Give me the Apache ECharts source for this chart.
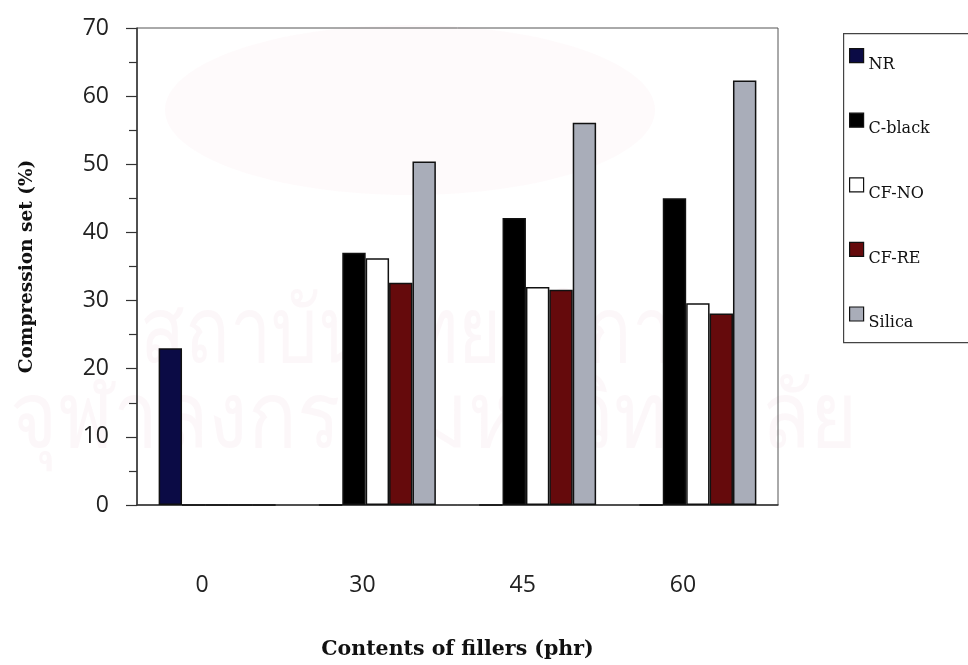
<!DOCTYPE html>
<html>
<head>
<meta charset="utf-8">
<script src="https://cdn.jsdelivr.net/npm/echarts@6/dist/echarts.min.js"></script>
<style>
  html, body { margin: 0; padding: 0; background: #fff; }
  #chart { width: 968px; height: 665px; }
</style>
</head>
<body>
<div id="chart"></div>
<script>
// Filler contents (phr) on the category axis
const categories = ['0', '30', '45', '60'];

// Compression set (%) per filler type
const nrValues     = [23, 0, 0, 0];
const cblackValues = [0, 37, 42.1, 45];
const cfnoValues   = [0, 36.2, 32, 29.6];
const cfreValues   = [0, 32.6, 31.6, 28.1];
const silicaValues = [0, 50.4, 56.1, 62.3];

const yTicks = { min: 0, max: 70, interval: 10 };

const seriesDefs = [
  { name: 'NR',      data: nrValues,     color: '#0b0b45' },
  { name: 'C-black', data: cblackValues, color: '#000000' },
  { name: 'CF-NO',   data: cfnoValues,   color: '#ffffff' },
  { name: 'CF-RE',   data: cfreValues,   color: '#650a0c' },
  { name: 'Silica',  data: silicaValues, color: '#a9adb9' }
];

const serif = '"DejaVu Serif", "Liberation Serif", serif';
const sans = '"Open Sans", "DejaVu Sans", sans-serif';

const chart = echarts.init(document.getElementById('chart'), null, { renderer: 'canvas' });

const option = {
  backgroundColor: '#ffffff',
  animation: false,
  graphic: [
    // faint institutional watermark behind the plot
    {
      type: 'ellipse', z: -11,
      shape: { cx: 410, cy: 110, rx: 245, ry: 85 },
      style: { fill: 'rgba(240,190,200,0.08)' }
    },
    {
      type: 'text', z: -10, x: 140, y: 290, scaleX: 0.8,
      style: { text: 'สถาบันวิทยบริการ', fill: 'rgba(220,150,180,0.08)', font: '92px "Noto Sans", "DejaVu Sans", sans-serif' }
    },
    {
      type: 'text', z: -10, x: 10, y: 375, scaleX: 0.88,
      style: { text: 'จุฬาลงกรณ์มหาวิทยาลัย', fill: 'rgba(220,150,180,0.08)', font: '92px "Noto Sans", "DejaVu Sans", sans-serif' }
    },
    // legend frame
    {
      type: 'rect', left: 843, top: 33, z: 5,
      shape: { width: 150, height: 309 },
      style: { fill: '#ffffff', stroke: '#444', lineWidth: 1.2 }
    }
  ],
  legend: {
    orient: 'vertical',
    left: 844,
    top: 43,
    itemWidth: 14,
    itemHeight: 14,
    itemGap: 40,
    icon: 'rect',
    z: 10,
    itemStyle: { borderColor: '#111', borderWidth: 1.2 },
    formatter: name => '{t|' + name + '}',
    textStyle: {
      fontFamily: serif,
      fontSize: 16,
      color: '#111',
      rich: {
        t: { fontFamily: serif, fontSize: 16, color: '#111', padding: [18, 0, 0, 0] }
      }
    },
    data: seriesDefs.map(s => s.name)
  },
  grid: {
    left: 137,
    right: 190,
    top: 28,
    bottom: 158,
    show: true,
    borderColor: '#555',
    borderWidth: 1
  },
  xAxis: {
    type: 'category',
    data: categories,
    axisLine: { lineStyle: { color: '#333', width: 1.5 } },
    axisTick: { show: false },
    axisLabel: {
      margin: 69,
      padding: [0, 30, 0, 0],
      fontFamily: sans,
      fontSize: 23,
      color: '#222'
    },
    name: 'Contents of fillers (phr)',
    nameLocation: 'middle',
    nameGap: 134,
    nameTextStyle: {
      fontFamily: serif,
      fontWeight: 'bold',
      fontSize: 20.5,
      color: '#111'
    }
  },
  yAxis: {
    type: 'value',
    min: yTicks.min,
    max: yTicks.max,
    interval: yTicks.interval,
    splitLine: { show: false },
    axisLine: { show: true, lineStyle: { color: '#333', width: 1.5 } },
    axisTick: { show: true, inside: false, length: 11, lineStyle: { color: '#333', width: 1.2 } },
    minorTick: { show: true, splitNumber: 2, length: 8, lineStyle: { color: '#333', width: 1.2 } },
    axisLabel: {
      margin: 28,
      fontFamily: sans,
      fontSize: 23,
      color: '#222'
    },
    name: 'Compression set (%)',
    nameLocation: 'middle',
    nameGap: 100,
    nameTextStyle: {
      fontFamily: serif,
      fontWeight: 'bold',
      fontSize: 18.5,
      color: '#111'
    }
  },
  series: seriesDefs.map(s => ({
    name: s.name,
    type: 'bar',
    data: s.data,
    barGap: '0%',
    barCategoryGap: '27%',
    itemStyle: { color: s.color, borderColor: '#111', borderWidth: 1.5 }
  }))
};

chart.setOption(option);
</script>
</body>
</html>
